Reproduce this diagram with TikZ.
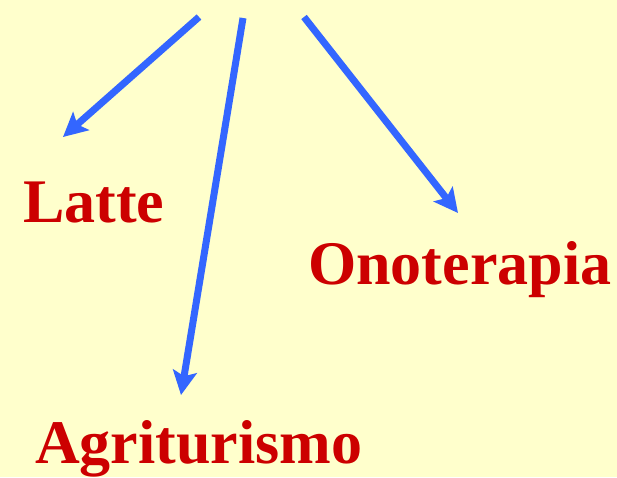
\documentclass[tikz,border=0pt]{standalone}
\usepackage{fontspec}
\setmainfont{Liberation Serif}
\usetikzlibrary{arrows.meta}
\definecolor{bg}{HTML}{FFFFCC}
\definecolor{arrowblue}{HTML}{3366FF}
\definecolor{labelred}{HTML}{CC0000}
\tikzset{
  arr/.style={draw=arrowblue, line width=7pt, -{Stealth[length=24pt,width=24pt,inset=5pt]}},
  lbl/.style={inner sep=0pt, anchor=base west, text=labelred, font=\fontsize{62}{62}\selectfont\bfseries}
}
\begin{document}
\begin{tikzpicture}[x=1pt,y=1pt]
\fill[bg] (0,0) rectangle (617,477);
\useasboundingbox (0,0) rectangle (617,477);
\node[lbl] (latte) at (23,255) {Latte};
\node[lbl] (ono) at (308,193) {Onoterapia};
\node[lbl] (agri) at (35,14) {Agriturismo};
\coordinate (s1) at (199,460);
\coordinate (e1) at (63,340);
\coordinate (s2) at (243,459);
\coordinate (e2) at (181,82);
\coordinate (s3) at (304,460);
\coordinate (e3) at (458,264);
\draw[arr] (s1) -- (e1);
\draw[arr] (s2) -- (e2);
\draw[arr] (s3) -- (e3);
\end{tikzpicture}
\end{document}
